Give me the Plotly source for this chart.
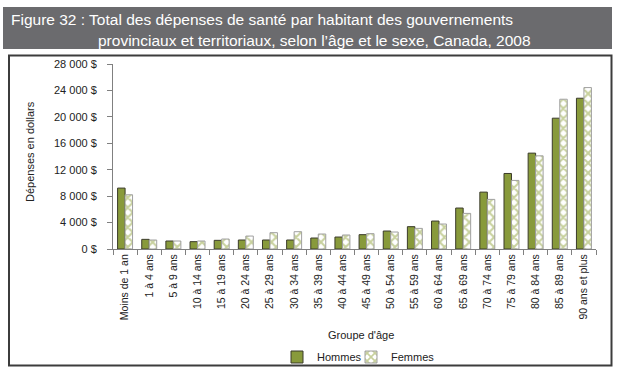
import plotly.graph_objects as go

categories = ["Moins de 1 an", "1 à 4 ans", "5 à 9 ans", "10 à 14 ans", "15 à 19 ans",
              "20 à 24 ans", "25 à 29 ans", "30 à 34 ans", "35 à 39 ans", "40 à 44 ans",
              "45 à 49 ans", "50 à 54 ans", "55 à 59 ans", "60 à 64 ans", "65 à 69 ans",
              "70 à 74 ans", "75 à 79 ans", "80 à 84 ans", "85 à 89 ans", "90 ans et plus"]
hommes = [9220, 1460, 1210, 1110, 1310, 1360, 1360, 1360, 1660, 1810,
          2170, 2720, 3380, 4230, 6200, 8610, 11430, 14510, 19800, 22820]
femmes = [8210, 1360, 1210, 1210, 1510, 1960, 2470, 2620, 2270, 2120,
          2320, 2570, 3120, 3780, 5390, 7510, 10380, 14100, 22670, 24430]
ytick_vals = [0, 4000, 8000, 12000, 16000, 20000, 24000, 28000]
ytick_text = ["0 $", "4 000 $", "8 000 $", "12 000 $", "16 000 $", "20 000 $", "24 000 $", "28 000 $"]

W, H = 619, 373
L, R, T, B = 113, 23, 64, 124
PW, PH = W - L - R, H - T - B

def px(x):
    return (x - L) / PW

def py(y):
    return (H - B - y) / PH

GREEN = "#889a3b"
FONT = "Liberation Sans, Arial, sans-serif"

fig = go.Figure()
fig.add_trace(go.Bar(x=categories, y=hommes, name="Hommes", legend="legend",
                     marker=dict(color=GREEN, line=dict(color="#3b3b2a", width=1))))
fig.add_trace(go.Bar(x=categories, y=femmes, name="Femmes", legend="legend2",
                     marker=dict(color="white", line=dict(color="#a0a0a0", width=1),
                                 pattern=dict(shape="x", fgcolor="#8fa23a", bgcolor="white",
                                              size=7, solidity=0.5))))

legend_common = dict(orientation="h", xref="container", yref="container",
                     xanchor="left", yanchor="middle",
                     font=dict(size=11, color="#222222"), itemwidth=30,
                     bgcolor="rgba(0,0,0,0)")

fig.update_layout(
    width=W, height=H,
    margin=dict(l=L, r=R, t=T, b=B, autoexpand=False),
    paper_bgcolor="white", plot_bgcolor="white",
    barmode="group", bargap=0.38, bargroupgap=0,
    font=dict(family=FONT, color="#222222", size=11),
    showlegend=True,
    legend=dict(legend_common, x=277 / W, y=1 - 357 / H),
    legend2=dict(legend_common, x=351 / W, y=1 - 357 / H),
    xaxis=dict(showline=True, linecolor="#808080", linewidth=1, ticks="outside",
               tickson="boundaries", ticklen=5, tickcolor="#808080", tickangle=-90,
               tickfont=dict(size=10.5, color="#222222"), showgrid=False, automargin=False),
    yaxis=dict(range=[0, 28000], tickvals=ytick_vals, ticktext=ytick_text,
               showline=True, linecolor="#808080", linewidth=1, ticks="outside",
               ticklen=5, tickcolor="#808080", showgrid=False, zeroline=False,
               tickfont=dict(size=11, color="#222222"), ticklabelstandoff=8,
               automargin=False),
)

shapes = [
    dict(type="rect", xref="paper", yref="paper", x0=px(3), x1=px(612), y0=py(7), y1=py(49),
         fillcolor="#6b6b6e", line=dict(width=0), layer="below"),
    dict(type="rect", xref="paper", yref="paper", x0=px(9), x1=px(611.5), y0=py(55.5), y1=py(365.5),
         fillcolor="rgba(0,0,0,0)", line=dict(color="#3c3c3c", width=2)),
]
fig.update_layout(shapes=shapes)

ann = [
    dict(text="Figure 32 : Total des dépenses de santé par habitant des gouvernements",
         x=px(9), y=py(19), xanchor="left", yanchor="middle",
         font=dict(size=15.5, color="white")),
    dict(text="provinciaux et territoriaux, selon l’âge et le sexe, Canada, 2008",
         x=px(96), y=py(40), xanchor="left", yanchor="middle",
         font=dict(size=15.5, color="white")),
    dict(text="Dépenses en dollars", x=px(30), y=py(152), textangle=-90,
         xanchor="center", yanchor="middle", font=dict(size=11, color="#222222")),
    dict(text="Groupe d'âge", x=px(361), y=py(335), xanchor="center", yanchor="middle",
         font=dict(size=11, color="#222222")),
]
for a in ann:
    a.update(xref="paper", yref="paper", showarrow=False)
fig.update_layout(annotations=ann)

fig.write_html("out.html")
